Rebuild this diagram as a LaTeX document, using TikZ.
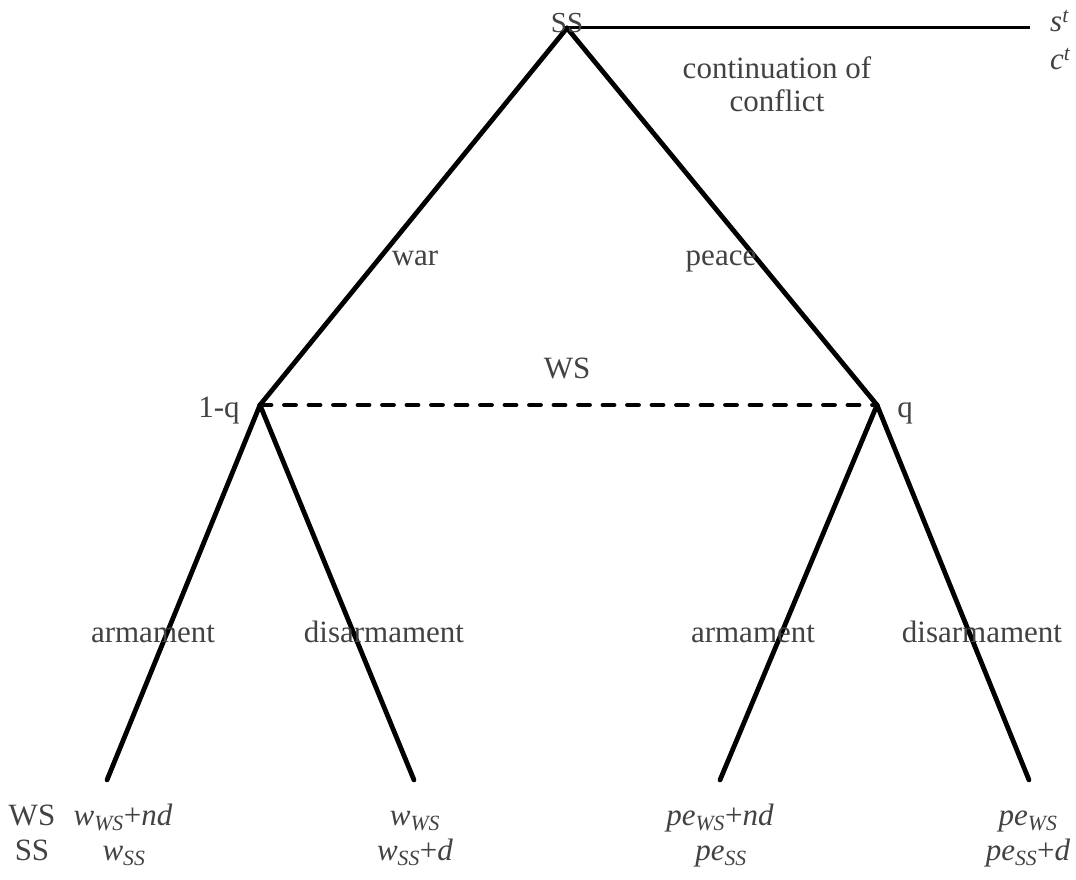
\documentclass[tikz,border=0pt]{standalone}
\usepackage{fontspec}
\setmainfont{Liberation Serif}
\begin{document}
\begin{tikzpicture}[x=1pt,y=-1pt,
  lbl/.style={text=black!74, font=\fontsize{31}{35}\selectfont, inner sep=0pt, anchor=base},
  branch/.style={line width=4.8pt, line cap=round},
  infoset/.style={line width=4.8pt, line cap=round, dash pattern=on 11pt off 13.5pt},
  thinline/.style={line width=3pt}]
\useasboundingbox (0,0) rectangle (1076,880);
% vertices
\coordinate (ss) at (567,28);
\coordinate (end) at (1030,28);
\coordinate (wl) at (260,405);
\coordinate (wr) at (877,405);
\coordinate (l1) at (107,780);
\coordinate (l2) at (414,780);
\coordinate (l3) at (720,780);
\coordinate (l4) at (1029,780);
% connectors
\draw[thinline] (ss) -- (end);
\draw[branch] (ss) -- (wl);
\draw[branch] (ss) -- (wr);
\draw[infoset] (wl) -- (wr);
\draw[branch] (wl) -- (l1);
\draw[branch] (wl) -- (l2);
\draw[branch] (wr) -- (l3);
\draw[branch] (wr) -- (l4);
% labels
\node[lbl, font=\fontsize{29}{33}\selectfont] (ssl) at (567,33) {SS};
\node[lbl, anchor=base west] (st) at (1050,32) {\textit{s}\textsuperscript{\textit{t}}};
\node[lbl, anchor=base west] (ct) at (1050,70) {\textit{c}\textsuperscript{\textit{t}}};
\node[lbl] (cont1) at (777,79) {continuation of};
\node[lbl] (cont2) at (777,112) {conflict};
\node[lbl] (war) at (415,265) {war};
\node[lbl] (peace) at (721,265) {peace};
\node[lbl] (ws) at (567,378) {WS};
\node[lbl] (oneq) at (219,417) {1-q};
\node[lbl] (q) at (905,417) {q};
\node[lbl] (a1) at (153,642) {armament};
\node[lbl] (d1) at (384,642) {disarmament};
\node[lbl] (a2) at (753,642) {armament};
\node[lbl] (d2) at (982,642) {disarmament};
% payoffs
\node[lbl] (pws) at (32,825) {WS};
\node[lbl] (pss) at (32,860) {SS};
\node[lbl] (p1a) at (123,825) {\textit{w}\textsubscript{\textit{WS}}+\textit{nd}};
\node[lbl] (p1b) at (124,860) {\textit{w}\textsubscript{\textit{SS}}};
\node[lbl] (p2a) at (415,825) {\textit{w}\textsubscript{\textit{WS}}};
\node[lbl] (p2b) at (415,860) {\textit{w}\textsubscript{\textit{SS}}+\textit{d}};
\node[lbl] (p3a) at (720,825) {\textit{pe}\textsubscript{\textit{WS}}+\textit{nd}};
\node[lbl] (p3b) at (721,860) {\textit{pe}\textsubscript{\textit{SS}}};
\node[lbl] (p4a) at (1028,825) {\textit{pe}\textsubscript{\textit{WS}}};
\node[lbl] (p4b) at (1028,860) {\textit{pe}\textsubscript{\textit{SS}}+\textit{d}};
\end{tikzpicture}
\end{document}
